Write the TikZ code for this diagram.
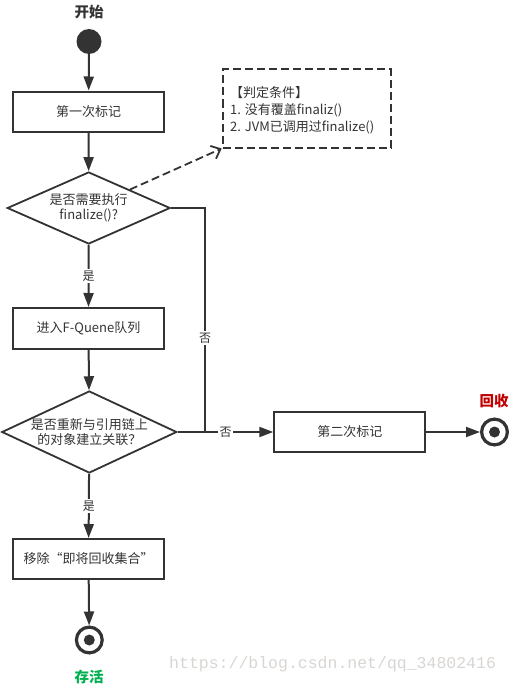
\documentclass[tikz,border=0pt]{standalone}
\usepackage{fontspec}
\setmainfont{Noto Sans CJK SC}
\newfontfamily\wmfont{Liberation Mono}
\usetikzlibrary{shapes.geometric,arrows.meta,calc}
\definecolor{ink}{HTML}{333333}
\definecolor{redc}{HTML}{C00000}
\definecolor{greenc}{HTML}{00B050}
\definecolor{wmc}{HTML}{D8D5D2}
\begin{document}
\begin{tikzpicture}[x=1pt,y=-1pt,
  every node/.style={text=ink},
  box/.style={draw=ink,line width=2pt,minimum width=151pt,minimum height=40pt,inner sep=0pt,font=\fontsize{13}{15}\selectfont},
  decision/.style={diamond,draw=ink,line width=1.8pt,inner sep=0pt},
  dtext/.style={align=center,font=\fontsize{13}{15}\selectfont,text=ink},
  flow/.style={draw=ink,line width=2pt,-{Triangle[length=14pt,width=10pt]}},
  plain/.style={draw=ink,line width=1.8pt},
  dashflow/.style={draw=ink,line width=1.8pt,dash pattern=on 8pt off 4pt,-{Straight Barb[length=8pt,width=14pt]}},
  lab/.style={fill=white,inner sep=1.5pt,font=\fontsize{12}{14}\selectfont},
  startdot/.style={circle,fill=ink,minimum size=25pt,inner sep=0pt},
  endring/.style={circle,draw=ink,line width=3.2pt,minimum size=25.8pt,inner sep=0pt,
    path picture={\fill[ink] (path picture bounding box.center) circle (5.5pt);}},
  titlebase/.style={font=\fontsize{14.5}{16}\selectfont\bfseries},
  notebox/.style={draw=ink,line width=2pt,dash pattern=on 8pt off 4pt,minimum width=168pt,minimum height=78pt,inner sep=0pt},
  notetext/.style={align=left,font=\fontsize{13}{17}\selectfont,inner sep=0pt},
  wmstyle/.style={text=wmc,font=\wmfont\fontsize{16.5}{18}\selectfont,inner sep=0pt}
]
\useasboundingbox (0,0) rectangle (510,685);
\node[titlebase] (tstart) at (89,12) {开始};
\node[startdot] (start) at (89,41.5) {};
\node[box] (b1) at (88.5,111.5) {第一次标记};
\node[decision,minimum width=163pt,minimum height=72pt,
  label={[dtext]center:{是否需要执行\\finalize()?}}] (d1) at (88.7,208) {};
\node[box,minimum height=41pt] (b2) at (88.5,328.5) {进入F-Quene队列};
\node[decision,minimum width=175pt,minimum height=82pt,
  label={[dtext]center:{是否重新与引用链上\\的对象建立关联？}}] (d2) at (89.3,432) {};
\node[box] (b3) at (349.8,432) {第二次标记};
\node[endring] (e1) at (494.5,432) {};
\node[titlebase,text=redc] (t1) at (494,401.5) {回收};
\node[box] (b4) at (88.5,559) {移除“即将回收集合”};
\node[endring] (e2) at (89.3,640) {};
\node[titlebase,text=greenc] (t2) at (89,677) {存活};
\node[notebox] (note) at (306.7,108.5) {};
\node[notetext,anchor=west] (nt) at (230,110.5) {【判定条件】\\1. 没有覆盖finaliz()\\2. JVM已调用过finalize()};
\node[wmstyle,anchor=west] (wm) at (169,664) {https://blog.csdn.net/qq\_34802416};
\coordinate (j) at (205,432);
\draw[flow] (start) -- (b1);
\draw[flow] (b1) -- (d1);
\draw[flow] (d1) -- node[lab]{是} (b2);
\draw[flow] (b2) -- (d2);
\draw[flow] (d2) -- node[lab]{是} (b4);
\draw[flow] (b4) -- (e2);
\draw[flow] (d2.east) -- node[lab]{否} (b3.west);
\draw[flow] (b3) -- (e1);
\draw[plain] (d1.east) -| node[lab,pos=0.79]{否} (j);
\draw[dashflow] (d1.north east) -- (note.south west);
\end{tikzpicture}
\end{document}
